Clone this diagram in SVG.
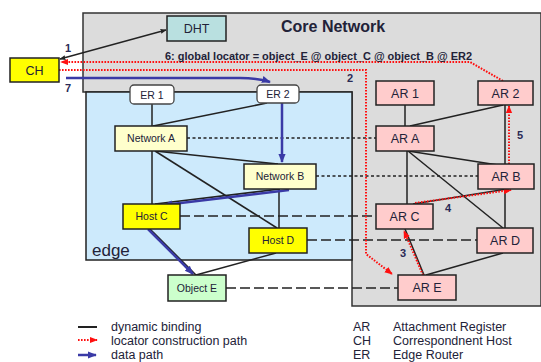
<svg xmlns="http://www.w3.org/2000/svg" width="541" height="362" viewBox="0 0 541 362">
<style>
text{font-family:"Liberation Sans",Arial,sans-serif;fill:#222238}
.box{stroke:#222;stroke-width:1.5}
.sm{font-size:10.5px;text-anchor:middle}
.lg{font-size:12.5px;text-anchor:middle}
.num{font-size:11px;font-weight:bold;text-anchor:middle;fill:#2a2a55}
.bind{stroke:#222;stroke-width:1.5;fill:none}
.dash1{stroke:#222;stroke-width:1.3;stroke-dasharray:3 2.5;fill:none}
.dash2{stroke:#222;stroke-width:1.5;stroke-dasharray:10 4;fill:none}
.red{stroke:#ff1010;stroke-width:2;stroke-dasharray:1.6 1.4;fill:none}
.blue{stroke:#3a3aa6;stroke-width:2.5;fill:none}
.leg{font-size:12.5px}
</style>
<defs>
<marker id="ak" viewBox="0 0 10 10" refX="9" refY="5" markerWidth="6" markerHeight="6" orient="auto-start-reverse" markerUnits="userSpaceOnUse"><path d="M0,1 L10,5 L0,9 z" fill="#222"/></marker>
<marker id="ar" viewBox="0 0 10 10" refX="9" refY="5" markerWidth="8" markerHeight="8" orient="auto" markerUnits="userSpaceOnUse"><path d="M0,1 L10,5 L0,9 z" fill="#ff1010"/></marker>
<marker id="ab" viewBox="0 0 10 10" refX="9" refY="5" markerWidth="9" markerHeight="9" orient="auto" markerUnits="userSpaceOnUse"><path d="M0,1 L10,5 L0,9 z" fill="#3a3aa6"/></marker>
</defs>

<g id="core-network">
<polygon points="83,13 541,13 541,306 352,306 352,92 83,92" fill="#dcdcdc" stroke="#333" stroke-width="1.5"/>
<text x="281" y="32" font-size="16" font-weight="bold" fill="#1e1e33">Core Network</text>
</g>
<g id="edge">
<rect x="86" y="92" width="266" height="168" fill="#cdeafc" stroke="#222" stroke-width="1.5"/>
<text x="92" y="256" font-size="17" fill="#1e1e40">edge</text>
</g>

<g id="connectors">
<!-- dynamic binding -->
<line class="bind" x1="152" y1="104" x2="152" y2="126"/>
<line class="bind" x1="153" y1="126" x2="267" y2="103"/>
<line class="bind" x1="152" y1="151" x2="152" y2="204"/>
<line class="bind" x1="155" y1="151" x2="278" y2="164"/>
<line class="bind" x1="155" y1="151" x2="277" y2="228"/>
<line class="bind" x1="279" y1="189" x2="279" y2="228"/>
<line class="bind" x1="280" y1="189" x2="155" y2="204"/>
<line class="bind" x1="150" y1="229" x2="196" y2="275"/>
<line class="bind" x1="276" y1="253" x2="196" y2="275"/>
<line class="bind" x1="405" y1="105" x2="405" y2="126"/>
<line class="bind" x1="410" y1="126" x2="503" y2="105"/>
<line class="bind" x1="407" y1="151" x2="407" y2="204"/>
<line class="bind" x1="408" y1="151" x2="498" y2="165"/>
<line class="bind" x1="408" y1="151" x2="503" y2="228"/>
<line class="bind" x1="505" y1="189" x2="505" y2="228"/>
<line class="bind" x1="505" y1="105" x2="505" y2="165"/>
<line class="bind" x1="413" y1="204" x2="507" y2="189"/>
<line class="bind" x1="426" y1="275" x2="503" y2="253"/>
<line class="bind" x1="424" y1="275" x2="405" y2="229"/>
<!-- mapping -->
<line class="dash1" x1="187" y1="138" x2="376" y2="138"/>
<line class="dash1" x1="316" y1="176" x2="478" y2="176"/>
<line class="dash2" x1="180" y1="216" x2="376" y2="216"/>
<line class="dash2" x1="307" y1="240" x2="477" y2="240"/>
<line class="dash2" x1="226" y1="288" x2="398" y2="288"/>
<!-- 1 -->
<line x1="60" y1="59" x2="166" y2="30" stroke="#222" stroke-width="1.3" marker-start="url(#ak)" marker-end="url(#ak)"/>
<!-- red locator path -->
<polyline class="red" points="59,70 366,70 366,254 392,274" marker-end="url(#ar)"/>
<polyline class="red" points="503,81 470,62 61,62" marker-end="url(#ar)"/>
<line class="red" x1="423" y1="275" x2="404" y2="231" marker-end="url(#ar)"/>
<line class="red" x1="415" y1="203" x2="511" y2="190" marker-end="url(#ar)"/>
<line class="red" x1="509" y1="164" x2="509" y2="106" marker-end="url(#ar)"/>
<!-- blue data path -->
<path class="blue" d="M66,78 L240,78 Q258,78 270,82" marker-end="url(#ab)"/>
<line class="blue" x1="282" y1="103" x2="282" y2="162" marker-end="url(#ab)"/>
<line class="blue" x1="289" y1="190" x2="164" y2="205" marker-end="url(#ab)"/>
<line class="blue" x1="148" y1="229" x2="193" y2="274" marker-end="url(#ab)"/>
<!-- labels -->
<text class="num" x="68" y="52">1</text>
<text class="num" x="350" y="82">2</text>
<text class="num" x="403" y="257">3</text>
<text class="num" x="448" y="212">4</text>
<text class="num" x="520" y="139">5</text>
<text class="num" x="68" y="92">7</text>
<text x="165" y="60" font-size="10" font-weight="bold" fill="#333344" textLength="307" lengthAdjust="spacingAndGlyphs">6: global locator = object_E @ object_C @ object_B @ ER2</text>
</g>

<g id="DHT"><rect class="box" x="167" y="16" width="59" height="25" fill="#b9e0e0"/><text class="lg" x="196.5" y="33">DHT</text></g>
<g id="CH"><rect class="box" x="10" y="58" width="49" height="24" fill="#ffff00"/><text class="lg" x="34.5" y="75">CH</text></g>
<g id="ER1"><rect x="130" y="85" width="44" height="19" rx="4" fill="#fff" stroke="#444" stroke-width="1.3"/><text class="sm" x="152" y="98.5" fill="#8a6a70">ER 1</text></g>
<g id="ER2"><rect x="257" y="85" width="42" height="18" rx="4" fill="#fff" stroke="#444" stroke-width="1.3"/><text class="sm" x="278" y="98" fill="#8a6a70">ER 2</text></g>
<g id="NetworkA"><rect class="box" x="115" y="126" width="72" height="25" fill="#ffffcc"/><text class="sm" x="151" y="142">Network A</text></g>
<g id="NetworkB"><rect class="box" x="244" y="164" width="72" height="25" fill="#ffffcc"/><text class="sm" x="280" y="180">Network B</text></g>
<g id="HostC"><rect class="box" x="123" y="204" width="57" height="25" fill="#ffff00"/><text class="sm" x="151.5" y="220">Host C</text></g>
<g id="HostD"><rect class="box" x="249" y="228" width="58" height="25" fill="#ffff00"/><text class="sm" x="278" y="244">Host D</text></g>
<g id="ObjectE"><rect class="box" x="168" y="275" width="58" height="26" fill="#ccffcc"/><text class="sm" x="197" y="292">Object E</text></g>
<g id="AR1"><rect class="box" x="376" y="81" width="58" height="24" fill="#ffcccc"/><text class="lg" x="405" y="98">AR 1</text></g>
<g id="AR2"><rect class="box" x="478" y="81" width="55" height="24" fill="#ffcccc"/><text class="lg" x="505.5" y="98">AR 2</text></g>
<g id="ARA"><rect class="box" x="376" y="126" width="58" height="25" fill="#ffcccc"/><text class="lg" x="405" y="143">AR A</text></g>
<g id="ARB"><rect class="box" x="478" y="164" width="56" height="25" fill="#ffcccc"/><text class="lg" x="506" y="181">AR B</text></g>
<g id="ARC"><rect class="box" x="376" y="204" width="57" height="25" fill="#ffcccc"/><text class="lg" x="404.5" y="221">AR C</text></g>
<g id="ARD"><rect class="box" x="477" y="228" width="56" height="25" fill="#ffcccc"/><text class="lg" x="505" y="245">AR D</text></g>
<g id="ARE"><rect class="box" x="398" y="275" width="58" height="25" fill="#ffcccc"/><text class="lg" x="427" y="292">AR E</text></g>

<g id="legend">
<line x1="78" y1="327" x2="97" y2="327" stroke="#222" stroke-width="2"/>
<line class="red" x1="78" y1="340" x2="97" y2="340" marker-end="url(#ar)"/>
<line x1="78" y1="355" x2="96" y2="355" stroke="#3a3aa6" stroke-width="2.5" marker-end="url(#ab)"/>
<text class="leg" x="111" y="331">dynamic binding</text>
<text class="leg" x="111" y="345">locator construction path</text>
<text class="leg" x="111" y="359">data path</text>
<text class="leg" x="353" y="331">AR</text>
<text class="leg" x="353" y="345">CH</text>
<text class="leg" x="353" y="359">ER</text>
<text class="leg" x="393" y="331">Attachment Register</text>
<text class="leg" x="393" y="345">Correspondnent Host</text>
<text class="leg" x="393" y="359">Edge Router</text>
</g>
</svg>
